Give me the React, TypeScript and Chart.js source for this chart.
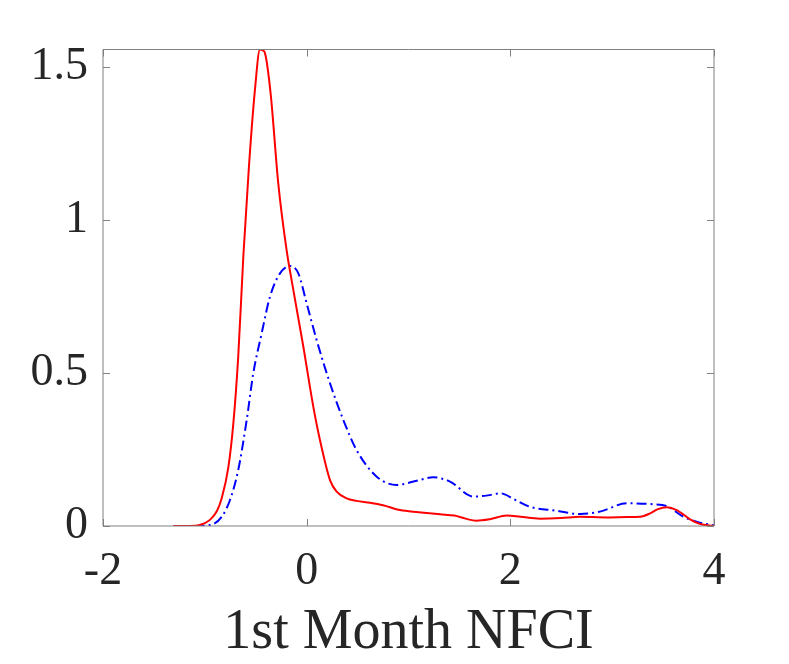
import React, { useEffect, useRef } from "react";
import { Chart, registerables } from "chart.js";

Chart.register(...registerables);

// Red solid density
const redX = [-1.31, -1.15, -1.05, -0.95, -0.88, -0.835, -0.77, -0.72, -0.672, -0.622, -0.567, -0.508, -0.459, -0.43, -0.41, -0.354, -0.279, -0.197, -0.131, -0.033, 0.065, 0.131, 0.229, 0.295, 0.393, 0.49, 0.622, 0.75, 0.917, 1.1, 1.31, 1.45, 1.56, 1.667, 1.8, 1.965, 2.1, 2.29, 2.5, 2.685, 2.947, 3.15, 3.274, 3.372, 3.45, 3.536, 3.634, 3.765, 3.86, 4.0];
const redY = [0, 0, 0.003, 0.02, 0.05, 0.09, 0.19, 0.335, 0.553, 0.88, 1.173, 1.424, 1.556, 1.553, 1.545, 1.413, 1.119, 0.901, 0.771, 0.586, 0.39, 0.28, 0.15, 0.112, 0.09, 0.082, 0.076, 0.068, 0.052, 0.045, 0.038, 0.034, 0.024, 0.017, 0.022, 0.034, 0.03, 0.024, 0.026, 0.03, 0.028, 0.029, 0.03, 0.041, 0.055, 0.061, 0.052, 0.022, 0.007, 0];

// Blue dash-dot density
const blueX = [-1.1, -0.95, -0.835, -0.753, -0.672, -0.589, -0.524, -0.442, -0.36, -0.262, -0.164, -0.082, 0, 0.098, 0.229, 0.36, 0.49, 0.688, 0.884, 1.05, 1.244, 1.408, 1.637, 1.78, 1.899, 2.05, 2.19, 2.45, 2.685, 2.88, 3.143, 3.405, 3.536, 3.7, 3.86, 4.0];
const blueY = [0, 0.003, 0.03, 0.085, 0.183, 0.346, 0.499, 0.629, 0.749, 0.825, 0.849, 0.825, 0.727, 0.607, 0.466, 0.346, 0.248, 0.161, 0.134, 0.145, 0.159, 0.145, 0.096, 0.1, 0.107, 0.085, 0.063, 0.05, 0.039, 0.047, 0.074, 0.071, 0.065, 0.03, 0.011, 0.002];

const xTicks = [-2, 0, 2, 4];
const yTicks = [0, 0.5, 1, 1.5];
const xRange = [-2, 4];
const yRange = [0, 1.556];
const xTitle = "1st Month NFCI";

const FONT = "'Liberation Serif', 'Times New Roman', serif";
const AXIS_COLOR = "#808080";
const TEXT_COLOR = "#262626";

const framePlugin = {
  id: "frame",
  afterDraw(chart: any) {
    const { ctx, chartArea } = chart;
    const { left, right, top, bottom } = chartArea;
    const xs = chart.scales.x;
    const ys = chart.scales.y;
    const tl = 7;
    ctx.save();
    ctx.strokeStyle = AXIS_COLOR;
    ctx.lineWidth = 1;
    ctx.beginPath();
    ctx.rect(left, top, right - left, bottom - top);
    for (const v of xTicks) {
      const p = Math.round(xs.getPixelForValue(v)) + 0.5;
      ctx.moveTo(p, bottom);
      ctx.lineTo(p, bottom - tl);
      ctx.moveTo(p, top);
      ctx.lineTo(p, top + tl);
    }
    for (const v of yTicks) {
      const p = Math.round(ys.getPixelForValue(v)) + 0.5;
      ctx.moveTo(left, p);
      ctx.lineTo(left + tl, p);
      ctx.moveTo(right, p);
      ctx.lineTo(right - tl, p);
    }
    ctx.stroke();
    ctx.restore();
  },
};

export default function App() {
  const ref = useRef<HTMLCanvasElement | null>(null);
  useEffect(() => {
    document.body.style.margin = "0";
    const canvas = ref.current;
    if (!canvas) return;
    const chart = new Chart(canvas, {
      type: "line",
      data: {
        datasets: [
          {
            label: "red",
            data: redX.map((x, i) => ({ x, y: redY[i] })),
            borderColor: "#ff0000",
            borderWidth: 2,
            pointRadius: 0,
            fill: false,
            cubicInterpolationMode: "monotone",
          },
          {
            label: "blue",
            data: blueX.map((x, i) => ({ x, y: blueY[i] })),
            borderColor: "#0000ff",
            borderWidth: 2,
            borderDash: [10, 4, 2, 4],
            pointRadius: 0,
            fill: false,
            cubicInterpolationMode: "monotone",
          },
        ],
      },
      options: {
        animation: false,
        responsive: true,
        maintainAspectRatio: false,
        layout: { padding: { left: 0, right: 75, top: 49.5, bottom: 0 } },
        plugins: { legend: { display: false }, tooltip: { enabled: false } },
        scales: {
          x: {
            type: "linear",
            min: xRange[0],
            max: xRange[1],
            grid: { display: false, drawTicks: false },
            border: { display: false },
            afterBuildTicks: (s: any) => {
              s.ticks = xTicks.map((v) => ({ value: v }));
            },
            afterFit: (s: any) => {
              s.height = 138;
            },
            ticks: {
              padding: 23,
              maxRotation: 0,
              autoSkip: false,
              color: TEXT_COLOR,
              font: { family: FONT, size: 46, lineHeight: 1 },
              callback: (v: any) => String(v),
            },
            title: {
              display: true,
              text: xTitle,
              color: TEXT_COLOR,
              font: { family: FONT, size: 56, lineHeight: 1 },
              padding: { top: 0, bottom: 2.5 },
            },
          },
          y: {
            type: "linear",
            min: yRange[0],
            max: yRange[1],
            grid: { display: false, drawTicks: false },
            border: { display: false },
            afterBuildTicks: (s: any) => {
              s.ticks = yTicks.map((v) => ({ value: v }));
            },
            afterFit: (s: any) => {
              s.width = 103;
            },
            ticks: {
              padding: 15,
              autoSkip: false,
              color: TEXT_COLOR,
              font: { family: FONT, size: 46, lineHeight: 1 },
              callback: (v: any) => String(v),
            },
          },
        },
      },
      plugins: [framePlugin],
    });
    return () => chart.destroy();
  }, []);
  return (
    <div style={{ position: "absolute", left: 0, top: 0, width: 789, height: 664, background: "#fff" }}>
      <canvas ref={ref} />
    </div>
  );
}
